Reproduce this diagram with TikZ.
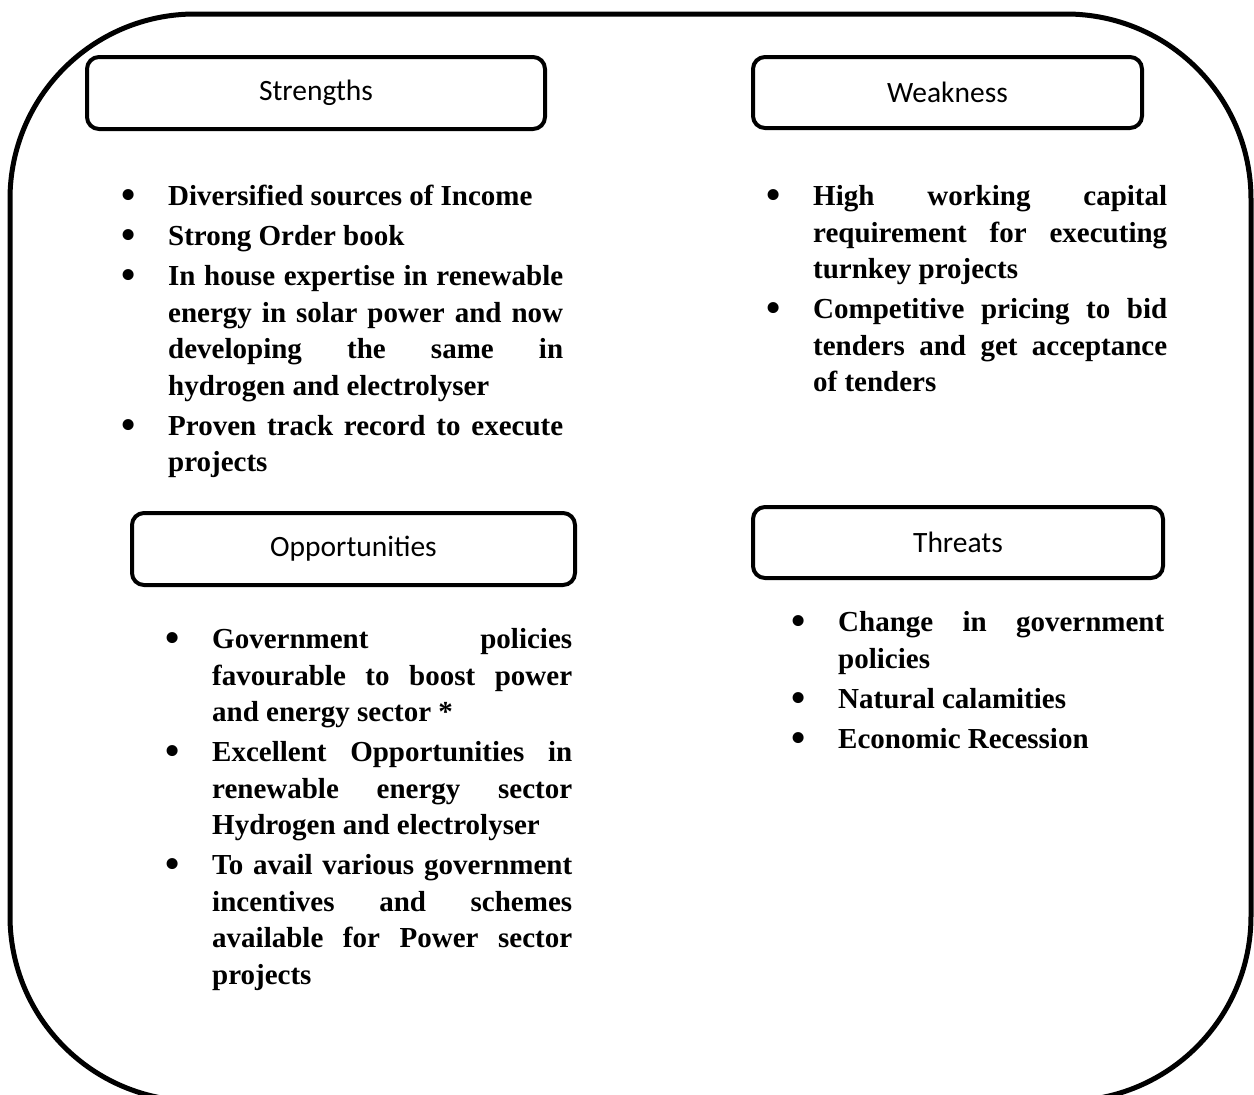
\documentclass[tikz,border=0pt]{standalone}
\usepackage{fontspec}
\newfontfamily\headfont{Carlito}
\newfontfamily\listfam{Liberation Serif}
% bold serif body text for the lists
\newcommand\listfont{\listfam\bfseries\fontsize{29}{36.5}\selectfont
  \parskip=3.5pt\tolerance=10000\hyphenpenalty=10000\exhyphenpenalty=10000}
\newcommand\bul{\par\hangindent=40pt\hangafter=1\noindent\strut
  \makebox[40pt][l]{\makebox[0pt]{\raisebox{-3pt}{\scalebox{1.4}{\textbullet}}}}}

\begin{document}
\begin{tikzpicture}[x=1pt,y=-1pt,
  head/.style={draw,line width=4pt,rounded corners=12pt,inner sep=0pt,
    font=\headfont\fontsize{29.5}{34}\selectfont},
  swot/.style={anchor=north west,inner sep=0pt,align=justify,font=\listfont}]
  \useasboundingbox (0,0) rectangle (1254,1095);
  % outer frame
  \draw[line width=5pt,rounded corners=185pt] (10,14) rectangle (1251,1101);
  % headers
  \node[head,minimum width=458pt,minimum height=72pt] (sHead) at (316,93) {Strengths};
  \node[head,minimum width=389pt,minimum height=71pt] (wHead) at (947.5,92.5) {Weakness};
  \node[head,minimum width=443pt,minimum height=72pt] (oHead) at (353.5,549) {Opportunities};
  \node[head,minimum width=410pt,minimum height=71pt] (tHead) at (958,542.5) {Threats};
  % lists
  \node[swot,text width=435pt] (sList) at (128,165.5) {%
    \bul Diversified sources of Income
    \bul Strong Order book
    \bul In house expertise in renewable \linebreak energy in solar power and now \linebreak
      developing the same in \linebreak hydrogen and electrolyser
    \bul Proven track record to execute \linebreak projects\par};
  \node[swot,text width=394pt] (wList) at (773,165.5) {%
    \bul High working capital \linebreak requirement for executing \linebreak turnkey projects
    \bul Competitive pricing to bid \linebreak tenders and get acceptance \linebreak of tenders\par};
  \node[swot,text width=400pt] (oList) at (172,608.5) {%
    \bul Government policies \linebreak favourable to boost power \linebreak and energy sector *
    \bul Excellent Opportunities in \linebreak renewable energy sector \linebreak Hydrogen and electrolyser
    \bul To avail various government \linebreak incentives and schemes \linebreak
      available for Power sector \linebreak projects\par};
  \node[swot,text width=366pt] (tList) at (798,591.5) {%
    \bul Change in government \linebreak policies
    \bul Natural calamities
    \bul Economic Recession\par};
\end{tikzpicture}
\end{document}
